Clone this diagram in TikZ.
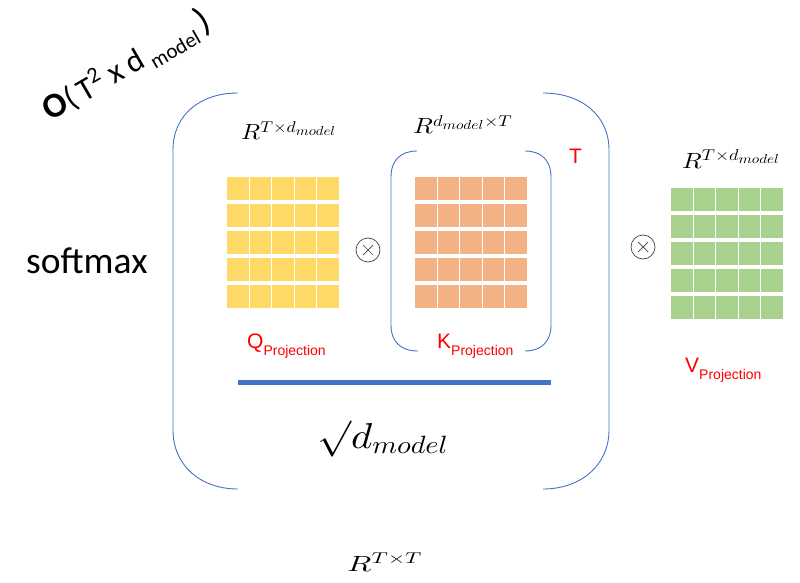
\documentclass[tikz,border=0pt]{standalone}
\usepackage{fontspec}
\usepackage{graphicx}
\DeclareFontShape{OML}{cmm}{m}{it}{<->cmmi10}{}
\DeclareFontShape{OMS}{cmsy}{m}{n}{<->cmsy10}{}
\DeclareFontShape{OT1}{cmr}{m}{n}{<->cmr10}{}
\newfontfamily\calib{Carlito}
\newfontfamily\arial{Liberation Sans}
\DeclareMathSizes{22}{22}{15.6}{13}
\DeclareMathSizes{36}{36}{25}{20}
\definecolor{brblue}{HTML}{4472C4}
\definecolor{qyellow}{HTML}{FFD966}
\definecolor{korange}{HTML}{F4B183}
\definecolor{vgreen}{HTML}{A9D18E}
\newcommand\cellgrid[2]{%
  \foreach \j in {0,...,4}{%
    \fill[#2] ([shift={(0,\j*27)}]#1.north west) rectangle ++(112,22.5);
    \foreach \i in {1,...,4}{%
      \draw[white, line width=1.3pt] ([shift={(\i*22.4,\j*27)}]#1.north west) -- ++(0,22.5);}}}
\begin{document}
\begin{tikzpicture}[x=1pt,y=-1pt,
  brk/.style={draw=brblue, line width=0.9pt},
  mat/.style={inner sep=0pt, minimum width=112pt, minimum height=130pt, anchor=north west},
  mlabel/.style={inner sep=0pt, anchor=base west},
  proj/.style={inner sep=0pt, anchor=base west, text=red, font=\arial\fontsize{21}{24}\selectfont},
  otimes/.style={circle, draw=black!75, line width=0.7pt, minimum size=24pt, inner sep=0pt},
  bar/.style={draw=brblue, line width=5pt}]
\useasboundingbox (0,0) rectangle (800,583);
% outer bracket
\draw[brk] (238,93) .. controls (200,93) and (173,115) .. (173,150) -- (173,430)
  .. controls (173,465) and (200,489) .. (238,489);
\draw[brk] (543,93) .. controls (581,93) and (609,115) .. (609,150) -- (609,430)
  .. controls (609,465) and (581,489) .. (543,489);
% inner bracket
\draw[brk] (417,151) .. controls (401,151) and (391,160) .. (391,177) -- (391,325)
  .. controls (391,342) and (401,351) .. (418,351);
\draw[brk] (525,151) .. controls (541,151) and (551,160) .. (551,177) -- (551,325)
  .. controls (551,342) and (541,351) .. (525,351);
% matrices
\node[mat] (Q) at (227,177) {};
\node[mat] (K) at (415,177) {};
\node[mat] (V) at (671,188) {};
\cellgrid{Q}{qyellow}
\cellgrid{K}{korange}
\cellgrid{V}{vgreen}
% multiply signs
\node[otimes] (m1) at (368,250) {};
\node[otimes] (m2) at (643,247) {};
\foreach \m in {m1,m2}{
  \draw[black!75, line width=0.7pt] ([shift={(-5,-5)}]\m.center) -- ([shift={(5,5)}]\m.center);
  \draw[black!75, line width=0.7pt] ([shift={(-5,5)}]\m.center) -- ([shift={(5,-5)}]\m.center);}
% labels
\node[mlabel] (lq) at (241,140) {\resizebox{95pt}{\height}{\fontsize{22}{24}\selectfont$R^{T\times d_{model}}$}};
\node[mlabel] (lk) at (413,134) {\resizebox{99pt}{\height}{\fontsize{22}{24}\selectfont$R^{d_{model}\times T}$}};
\node[mlabel] (lv) at (682,168) {\resizebox{98pt}{\height}{\fontsize{22}{24}\selectfont$R^{T\times d_{model}}$}};
\node[mlabel] (lt) at (347,571) {\resizebox{75pt}{\height}{\fontsize{22}{24}\selectfont$R^{T\times T}$}};
\node[mlabel] (sq) at (317,448) {\resizebox{131pt}{\height}{\fontsize{36}{40}\selectfont$\surd d_{model}$}};
\node[proj] (qp) at (247,348) {Q\raisebox{-7pt}{\fontsize{14}{16}\selectfont Projection}};
\node[proj] (kp) at (437,348) {K\raisebox{-7pt}{\fontsize{14}{16}\selectfont Projection}};
\node[proj] (vp) at (685,372) {V\raisebox{-7pt}{\fontsize{14}{16}\selectfont Projection}};
\node[proj] (tT) at (569,163) {T};
\node[inner sep=0pt, anchor=base west, font=\calib\fontsize{37.5}{40}\selectfont] (sm) at (26,273) {softmax};
\node[rotate=30, inner sep=0pt] (cx) at (127,66)
  {\calib\fontsize{32}{34}\selectfont{\fontsize{35}{36}\selectfont\bfseries O}(\,T\textsuperscript{2} x d\,\raisebox{-7pt}{\fontsize{21}{22}\selectfont model}\,{\fontsize{37}{38}\selectfont)}};
% fraction bar
\coordinate (barL) at (238,382);
\coordinate (barR) at (551,382);
\draw[bar] (barL) -- (barR);
\end{tikzpicture}
\end{document}
